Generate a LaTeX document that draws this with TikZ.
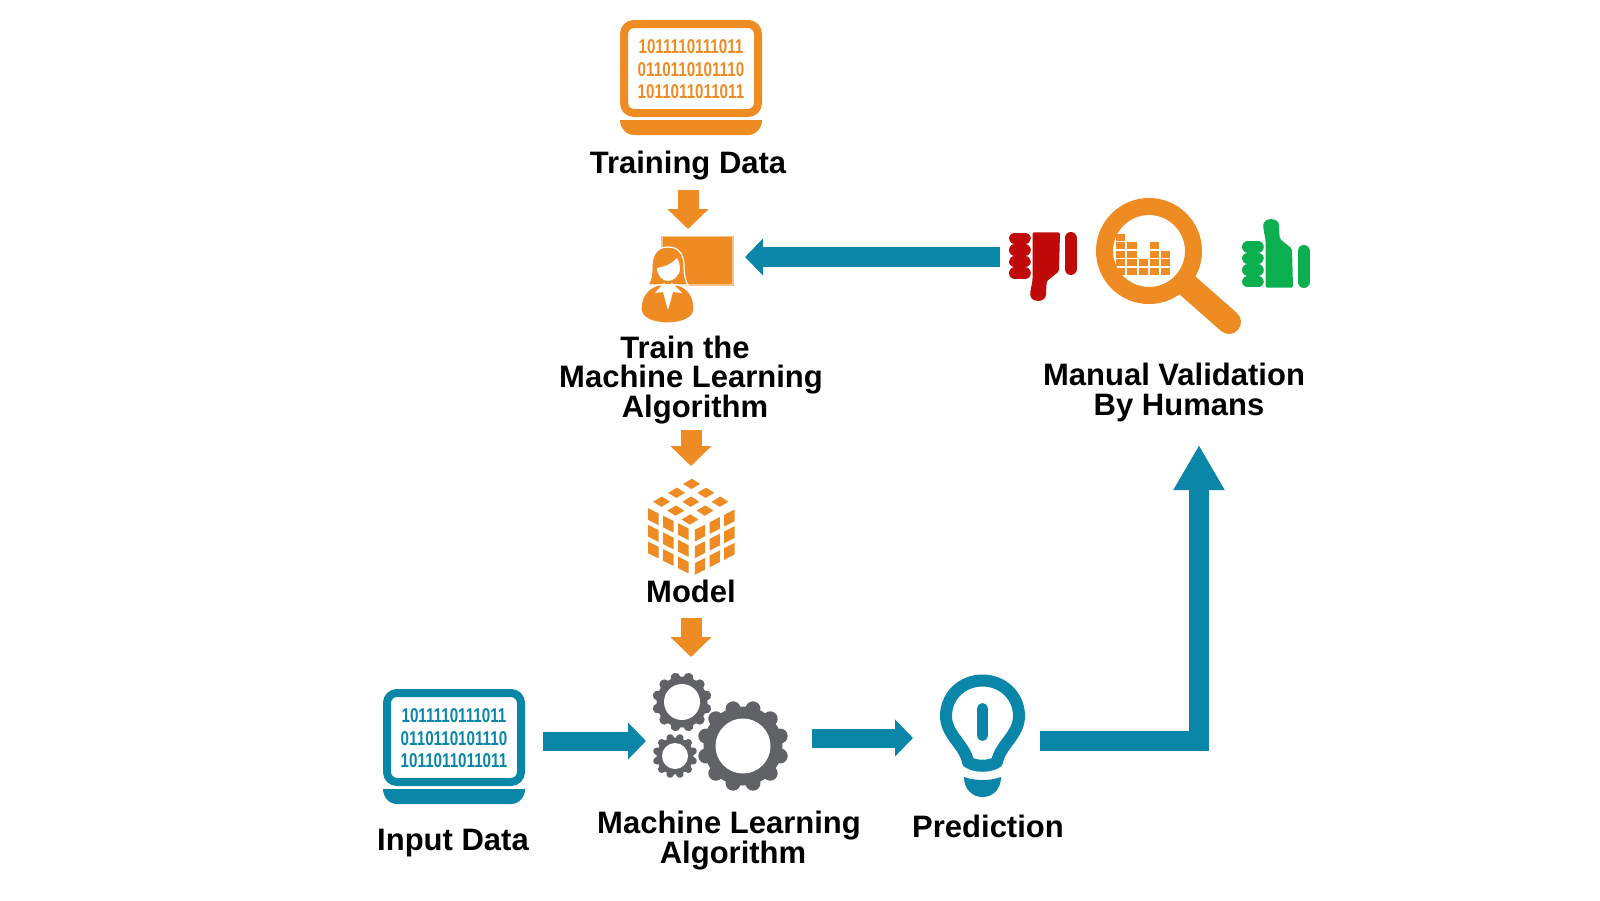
\documentclass[tikz,border=0pt]{standalone}
\usepackage{fontspec}
\setmainfont{Liberation Sans}
\usetikzlibrary{arrows.meta}
\definecolor{FigureOrange}{HTML}{EE8B22}
\definecolor{FigureTeal}{HTML}{0A86A8}
\definecolor{FigureGray}{HTML}{616265}
\definecolor{FigureRed}{HTML}{C00A0A}
\definecolor{FigureGreen}{HTML}{0CAF50}
\definecolor{PanelEdge}{HTML}{F4C28C}
\tikzset{
  figure/.style={x=1pt,y=-1pt},
  steplabel/.style={font=\bfseries\fontsize{31}{29.6}\selectfont,text=black,inner sep=0pt,align=center},
  bitline/.style={font=\bfseries\fontsize{20}{20}\selectfont,inner sep=0pt,xscale=0.76,transform shape},
  iconbox/.style={inner sep=0pt,outer sep=0pt},
  orangeflow/.style={-{Triangle[length=20pt,width=40pt]},line width=21pt,draw=FigureOrange},
  tealflow/.style={-{Triangle[length=18pt,width=36pt]},line width=19pt,draw=FigureTeal},
  bigflow/.style={-{Triangle[length=45pt,width=48pt]},line width=20pt,draw=FigureTeal},
}
\newcommand{\LaptopIcon}[4]{%
  \begin{scope}[shift={(#2,#3)}]
    \draw[#1,line width=8pt,rounded corners=10pt] (4,4) rectangle (138,93);
    \fill[#1] (0,100) -- (142,100) .. controls (142,108) and (136,115) .. (128,115)
      -- (14,115) .. controls (6,115) and (0,108) .. (0,100) -- cycle;
    \foreach \row/\bits/\ypos in {a/1011110111011/27,b/0110110101110/50,c/1011011011011/72}
      \node[bitline,text=#1] (#4\row) at (71,\ypos) {\bits};
  \end{scope}%
}
\newcommand{\CubeFace}[7]{%
  \foreach \i in {0,1,2}
    \foreach \j in {0,1,2}
      \fill[FigureOrange]
        ({#1+(\i+#7)/3*#3+(\j+#7)/3*#5},{#2+(\i+#7)/3*#4+(\j+#7)/3*#6}) --
        ({#1+(\i+1-#7)/3*#3+(\j+#7)/3*#5},{#2+(\i+1-#7)/3*#4+(\j+#7)/3*#6}) --
        ({#1+(\i+1-#7)/3*#3+(\j+1-#7)/3*#5},{#2+(\i+1-#7)/3*#4+(\j+1-#7)/3*#6}) --
        ({#1+(\i+#7)/3*#3+(\j+1-#7)/3*#5},{#2+(\i+#7)/3*#4+(\j+1-#7)/3*#6}) -- cycle;%
}
\newcommand{\GearIcon}[6]{%
  \fill[FigureGray] (#1,#2) circle[radius=#3];
  \foreach \a in {15,45,...,345}
    \draw[FigureGray,line width=#6pt,line cap=round]
      (#1,#2) ++(\a:#3-1) -- ++(\a:{#4-#3+1-#6/2});
  \fill[white] (#1,#2) circle[radius=#5];%
}
\newcommand{\HandIcon}[4]{%
  \begin{scope}[shift={(#2,#3)},yscale=#4]
    \foreach \k in {0,1,2,3}
      \draw[#1,line width=11.6pt,line cap=round] (5.8,{5.8+11.6*\k}) -- (16,{5.8+11.6*\k});
    \fill[#1,rounded corners=1.5pt] (23.5,46.7) -- (23.5,-1) -- (21.2,-14)
      .. controls (21.2,-24) and (37,-24) .. (37,-14)
      -- (37.7,-2.3) -- (50,7.7) -- (51,46.7) -- cycle;
    \draw[#1,line width=12pt,line cap=round] (61.5,10) -- (61.5,41);
  \end{scope}%
}

\begin{document}
\begin{tikzpicture}[figure]
  \useasboundingbox (0,0) rectangle (1600,900);

  \node[steplabel,anchor=base] (trainingdata) at (688,173) {Training Data};
  \node[steplabel,anchor=south] (trainlabel) at (691,424) {\hspace*{-12pt}Train the\\Machine Learning\\\hspace*{8pt}Algorithm};
  \node[steplabel,anchor=base] (modellabel) at (691,602) {Model};
  \node[steplabel,anchor=base] (inputlabel) at (453,850) {Input Data};
  \node[steplabel,anchor=south] (algolabel) at (729,870) {Machine Learning\\\hspace*{8pt}Algorithm};
  \node[steplabel,anchor=base] (predictionlabel) at (988,837) {Prediction};
  \node[steplabel,anchor=south] (validationlabel) at (1174,422) {Manual Validation\\\hspace*{10pt}By Humans};

  \node[iconbox,minimum width=92pt,minimum height=86pt] (trainicon) at (688,280) {};
  \node[iconbox,minimum width=84pt,minimum height=98pt] (cubeicon) at (691,526) {};
  \node[iconbox,minimum width=142pt,minimum height=116pt] (inputicon) at (454,741) {};
  \node[iconbox,minimum width=136pt,minimum height=132pt] (gearicon) at (721,738) {};
  \node[iconbox,minimum width=85pt,minimum height=134pt] (bulbicon) at (982.5,741) {};
  \node[iconbox,minimum width=68pt,minimum height=66pt] (downicon) at (1043,257) {};
  \coordinate (validationtip) at (1199,445);

  \LaptopIcon{FigureOrange}{620}{20}{trainbits}
  \LaptopIcon{FigureTeal}{383}{689}{inputbits}

  \fill[FigureOrange,draw=PanelEdge,line width=1.2pt] (662,236.5) rectangle (733,285);
  \fill[FigureOrange,draw=white,line width=1.2pt] (668,247) .. controls (656,247) and (652,256) .. (652,266)
    .. controls (652,274) and (651,280) .. (648,285) -- (688,285)
    .. controls (685,280) and (684,274) .. (684,266) .. controls (684,256) and (680,247) .. (668,247) -- cycle;
  \fill[FigureOrange,draw=white,line width=1.2pt] (641,309) .. controls (641,296) and (648,288) .. (658,285)
    -- (678,285) .. controls (688,288) and (694,296) .. (694,309)
    .. controls (694,318) and (682,323) .. (667.5,323) .. controls (653,323) and (641,318) .. (641,309) -- cycle;
  \fill[white] (657,268) .. controls (664,267) and (672,264) .. (677,258) .. controls (679,262) and (680,265) .. (680,268)
    .. controls (680,276) and (673,281) .. (668,281) .. controls (663,281) and (657,276) .. (657,268) -- cycle;
  \fill[white] (655,293) -- (664,283) -- (668,286) -- (672,283) -- (682,293) -- (673,292) -- (668,310) -- (663,292) -- cycle;

  \CubeFace{692}{475}{-45}{26.7}{42.6}{26.7}{.21}
  \CubeFace{645.8}{504.6}{45}{22.5}{0}{50}{.15}
  \CubeFace{692.7}{528.4}{44}{-22.5}{0}{50}{.15}

  \GearIcon{682}{702}{25.5}{30}{18}{10}
  \GearIcon{675}{756}{18.5}{22.5}{13}{7.5}
  \GearIcon{743}{746}{39.5}{46}{27.5}{15}

  \draw[FigureTeal,line width=12pt,line join=round] (946,716) .. controls (946,696) and (962,680.5) .. (982.5,680.5)
    .. controls (1003,680.5) and (1019,696) .. (1019,716) .. controls (1019,735) and (1000,745) .. (997,762)
    .. controls (990,767) and (975,767) .. (968,762) .. controls (965,745) and (946,735) .. (946,716) -- cycle;
  \draw[FigureTeal,line width=11pt,line cap=round] (982.5,708.5) -- (982.5,735.5);
  \fill[FigureTeal] (964,777) .. controls (975,781) and (990,781) .. (1001,777)
    .. controls (1001,790) and (992,797) .. (982.5,797) .. controls (973,797) and (964,790) .. (964,777) -- cycle;

  \foreach \col/\top in {0/0,1/1,2/3,3/1,4/2}
    \foreach \row in {\top,...,4}
      \fill[FigureOrange] ({1116+11.3*\col},{234+8.4*\row}) rectangle ++(9.2,7);
  \draw[FigureOrange,line width=17pt] (1149,251) circle[radius=44.5];
  \draw[FigureOrange,line width=24pt,line cap=round] (1187,285) -- (1229,322);

  \HandIcon{FigureRed}{1009}{279}{-1}
  \HandIcon{FigureGreen}{1242}{241}{1}

  \draw[orangeflow,shorten <=10pt,shorten >=8pt] (trainingdata.south) -- (trainingdata.south |- trainicon.north);
  \draw[orangeflow,shorten <=6pt,shorten >=11pt] (trainlabel.south) -- (cubeicon.north);
  \draw[orangeflow,shorten <=15pt,shorten >=15pt] (modellabel.south) -- (modellabel.south |- gearicon.north);
  \draw[tealflow,shorten <=18pt,shorten >=7pt] (inputicon.east) -- (inputicon.east -| gearicon.west);
  \draw[tealflow,shorten <=23pt,shorten >=27pt] (gearicon.east) -- (gearicon.east -| bulbicon.west);
  \draw[tealflow,line width=20pt,shorten <=9pt,shorten >=11pt] (downicon.west) -- (downicon.west -| trainicon.east);
  \draw[bigflow,shorten <=15pt] (bulbicon.east) -| (validationtip);
\end{tikzpicture}
\end{document}
